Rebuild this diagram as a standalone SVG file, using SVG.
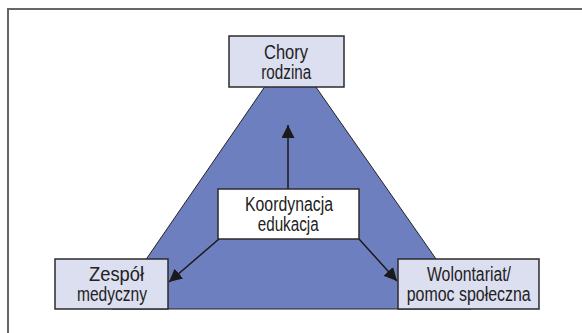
<svg xmlns="http://www.w3.org/2000/svg" width="582" height="333" viewBox="0 0 582 333">
<style>
.box{fill:#dcdff0;stroke:#2b2b2b;stroke-width:1.5}
.cbox{fill:#ffffff;stroke:#2b2b2b;stroke-width:1.5}
.t{font-family:"Liberation Sans Narrow","Liberation Sans",Arial,sans-serif;font-size:19.5px;fill:#222;text-anchor:middle}
.conn{stroke:#1a1a1a;stroke-width:1.5;fill:none;marker-end:url(#ah)}
</style>
<defs>
<marker id="ah" viewBox="0 0 13 13" refX="13" refY="6.5" markerWidth="13" markerHeight="13" markerUnits="userSpaceOnUse" orient="auto">
<path d="M0,0 L13,6.5 L0,13 z" fill="#1a1a1a"/>
</marker>
</defs>
<rect width="582" height="333" fill="#ffffff"/>
<path d="M8,333 L8,9 L582,9" fill="none" stroke="#666" stroke-width="2"/>
<polygon id="triangle" points="290,50 112,309 471,309" fill="#6e7fc0" stroke="#222" stroke-width="1"/>
<g id="connectors">
<line class="conn" x1="288" y1="189" x2="288" y2="125"/>
<line class="conn" x1="219" y1="239" x2="169" y2="282"/>
<line class="conn" x1="359" y1="239" x2="397" y2="281"/>
</g>
<g id="chory">
<rect class="box" x="229" y="36" width="115" height="51"/>
<text class="t" x="286" y="58.5" textLength="44" lengthAdjust="spacingAndGlyphs">Chory</text>
<text class="t" x="286.3" y="79" textLength="50" lengthAdjust="spacingAndGlyphs">rodzina</text>
</g>
<g id="koordynacja">
<rect class="cbox" x="218" y="189" width="141" height="50"/>
<text class="t" x="289" y="210.5" textLength="88" lengthAdjust="spacingAndGlyphs">Koordynacja</text>
<text class="t" x="288.2" y="231.3" textLength="61" lengthAdjust="spacingAndGlyphs">edukacja</text>
</g>
<g id="zespol">
<rect class="box" x="55" y="259" width="113" height="50"/>
<text class="t" x="116.5" y="280.5" textLength="55" lengthAdjust="spacingAndGlyphs">Zespół</text>
<text class="t" x="112" y="301" textLength="70" lengthAdjust="spacingAndGlyphs">medyczny</text>
</g>
<g id="wolontariat">
<rect class="box" x="398" y="259" width="141" height="50"/>
<text class="t" x="469" y="280.5" textLength="84" lengthAdjust="spacingAndGlyphs">Wolontariat/</text>
<text class="t" x="468.7" y="301" textLength="124" lengthAdjust="spacingAndGlyphs">pomoc społeczna</text>
</g>
</svg>
